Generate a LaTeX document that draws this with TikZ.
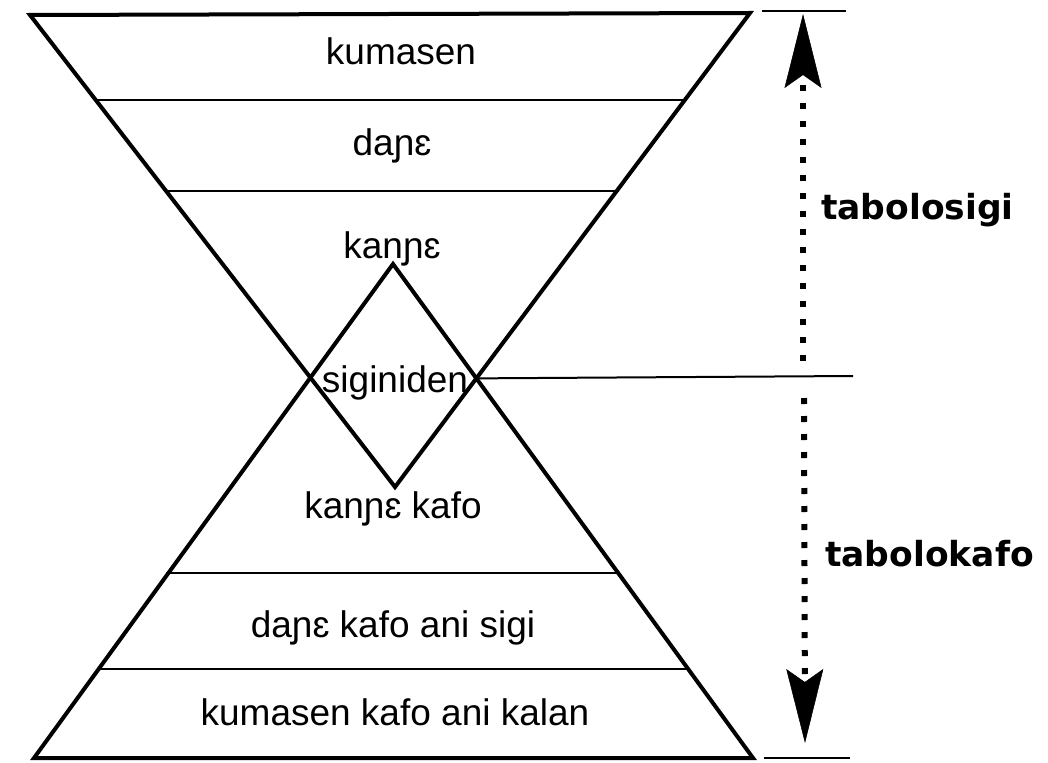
\documentclass[tikz,border=0pt]{standalone}
\usepackage{fontspec}
\setmainfont{Liberation Sans}
\newfontfamily\labelfont{DejaVu Sans}
\usetikzlibrary{arrows.meta}
\tikzset{
  edge/.style={line width=4pt, line join=miter},
  band/.style={line width=1.6pt},
  rule/.style={line width=2pt},
  dots/.style={line width=6pt, dash pattern=on 6pt off 12pt},
  zone/.style={font=\fontsize{37}{40}\selectfont, anchor=base, inner sep=0pt},
  side/.style={font=\labelfont\bfseries\fontsize{34.5}{38}\selectfont, anchor=base west, inner sep=0pt},
  bigtip/.style={-{Stealth[length=74pt,width=37pt,inset=13pt,line width=0.5pt]}}
}
\begin{document}
\begin{tikzpicture}[x=1pt,y=-1pt]
    \useasboundingbox (0,0) rectangle (1048,762);
    % upper triangle, apex down
    \coordinate (TL) at (30,15);
    \coordinate (TR) at (750,13);
    \coordinate (TA) at (395,487);
    % lower triangle, apex up
    \coordinate (BL) at (34,758);
    \coordinate (BR) at (753,758);
    \coordinate (BA) at (393,264);
    \draw[band] (94,100) -- (687,100);
    \draw[band] (165,191) -- (619,191);
    \draw[band] (166,573) -- (620,573);
    \draw[band] (97,669) -- (690,669);
    \draw[edge] (TL) -- (TR) -- (TA) -- cycle;
    \draw[edge] (BL) -- (BR) -- (BA) -- cycle;
    \coordinate (X) at (intersection of TR--TA and BA--BR);
    % marks on the right
    \coordinate (topA) at (762,11);
    \coordinate (topB) at (846,11);
    \coordinate (midB) at (853,376);
    \coordinate (botA) at (764,758);
    \coordinate (botB) at (850,758);
    \draw[rule] (topA) -- (topB);
    \draw[rule] (X) -- (midB);
    \draw[rule] (botA) -- (botB);
    \coordinate (up) at (803,14);
    \coordinate (upfoot) at (803,361);
    \coordinate (down) at (805,743);
    \coordinate (downfoot) at (804,398);
    \draw[dots, bigtip] (upfoot) -- (up);
    \draw[dots, bigtip] (downfoot) -- (down);
    \node[side] (sigi) at (821,219) {tabolosigi};
    \node[side] (kafo) at (825,566) {tabolokafo};
    % texts in the bands
    \node[zone] (kum) at (401,65) {kumasen};
    \node[zone] (dan) at (392,156) {daɲɛ};
    \node[zone] (kan) at (392,258) {kanɲɛ};
    \node[zone] (sid) at (395,392) {siginiden};
    \node[zone] (kank) at (393,518) {kanɲɛ kafo};
    \node[zone] (dank) at (393,637) {daɲɛ kafo ani sigi};
    \node[zone] (kumk) at (395,725) {kumasen kafo ani kalan};
\end{tikzpicture}
\end{document}
